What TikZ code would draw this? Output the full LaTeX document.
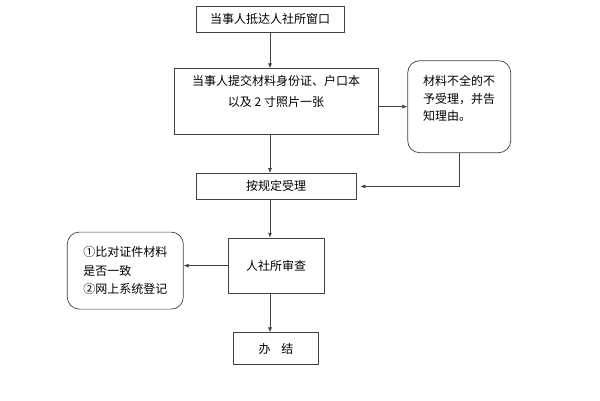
\documentclass[tikz,border=0pt]{standalone}
\usepackage{fontspec}
\setmainfont{Noto Sans CJK SC}
\usetikzlibrary{arrows.meta, positioning}

\begin{document}
\begin{tikzpicture}[
    node distance=36pt,
    process/.style={rectangle, draw=black!75, line width=0.7pt, text=black, inner sep=2pt, align=center, font=\fontsize{12}{21}\selectfont},
    note/.style={rectangle, draw=black!75, line width=0.7pt, text=black, inner sep=2pt, rounded corners=12pt, align=left},
    arrow/.style={-{Latex[length=5pt,width=4pt]}, draw=black!75, line width=0.7pt}
]
\useasboundingbox (0,0) rectangle (600pt,-400pt);

% Main flow
\node[process, minimum width=148pt, minimum height=26pt] (arrive) at (270pt,-19pt) {当事人抵达人社所窗口};
\node[process, below=36pt of arrive, xshift=6pt, minimum width=204pt, minimum height=66pt] (submit) {当事人提交材料身份证、户口本\\以及 2 寸照片一张\\~};
\node[process, below=38pt of submit, minimum width=160pt, minimum height=26pt] (accept) {按规定受理};
\node[process, below=38pt of accept, minimum width=96pt, minimum height=55pt] (review) {人社所审查};
\node[process, below=39pt of review, minimum width=85pt, minimum height=32pt] (finish) {办\hspace{11pt}结};

% Side notes
\node[note, right=29pt of submit, yshift=-5pt, minimum width=103pt, minimum height=92pt, font=\fontsize{12}{17.5}\selectfont] (reject) {材料不全的不\\予受理，并告\\知理由。\\~};
\node[note, left=44pt of review, yshift=-5pt, minimum width=116pt, minimum height=77pt, font=\fontsize{12}{18.5}\selectfont] (check) {①比对证件材料\\是否一致\\②网上系统登记};

\draw[arrow] (arrive) -- (arrive |- submit.north);
\draw[arrow] (arrive |- submit.south) -- (arrive |- accept.north);
\draw[arrow] (submit.east |- reject.west) -- (reject.west);
\draw[arrow, shorten >=4pt] (reject.south) |- (accept.east);
\draw[arrow] (arrive |- accept.south) -- (arrive |- review.north);
\draw[arrow] (review.west) -- (check.east |- review.west);
\draw[arrow] (arrive |- review.south) -- (arrive |- finish.north);

\end{tikzpicture}
\end{document}
